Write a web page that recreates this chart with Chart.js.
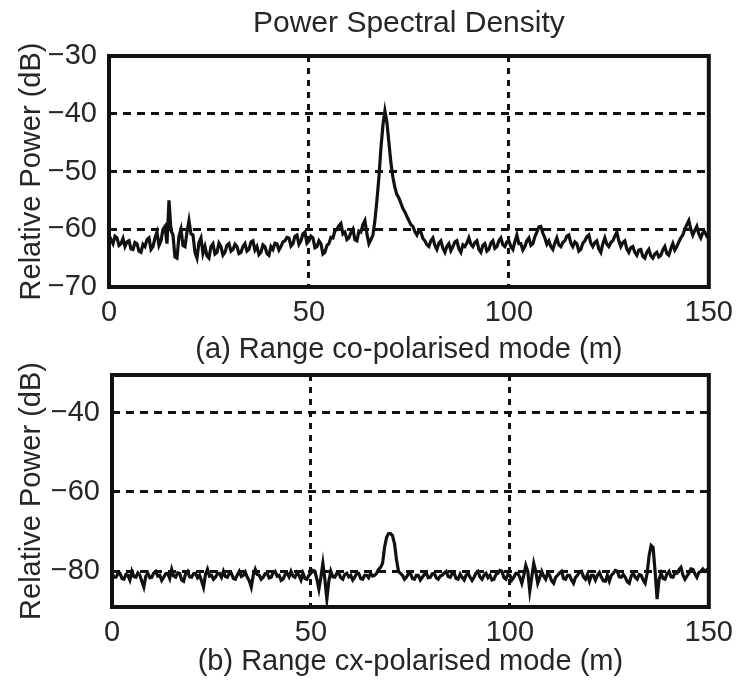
<!DOCTYPE html>
<html>
<head>
<meta charset="utf-8">
<script src="https://cdn.jsdelivr.net/npm/chart.js@4/dist/chart.umd.min.js"></script>
<style>
  html, body { margin: 0; padding: 0; background: #ffffff; }
  #wrap { position: relative; width: 742px; height: 686px; overflow: hidden; background: #ffffff; }
  canvas { position: absolute; left: 0; }
  #c1 { top: 0; }
  #c2 { top: 340px; }
</style>
</head>
<body>
<div id="wrap">
  <canvas id="c1" width="742" height="372"></canvas>
  <canvas id="c2" width="742" height="346"></canvas>
</div>
<script>
// ---- data (0.5 m spacing, 0..150 m) ----
const mainTitle = "Power Spectral Density";
const yLabel = "Relative Power (dB)";
const xLabelCo = "(a) Range co-polarised mode (m)";
const xLabelCx = "(b) Range cx-polarised mode (m)";

const rangeStepM = 0.5;
const xTicks = [0, 50, 100, 150];
const yTicksCo = [-70, -60, -50, -40, -30];
const yTicksCx = [-80, -60, -40];

const coPolar = [
  -61, -61.8, -62.5, -61.2, -61.5, -62.8, -62.5, -61.6, -63, -62.2,
  -62, -63.4, -63.5, -62.3, -62.5, -63.8, -64, -62.6, -63, -61.8,
  -61.5, -63.5, -63, -61.5, -60.5, -62.8, -62, -60, -59.5, -62.5,
  -55, -60.2, -61, -64.8, -65, -61.2, -60, -62.8, -63, -60.5,
  -58.5, -60.8, -61, -64, -65, -62.3, -61.5, -64.2, -63, -64.6,
  -65, -63, -62.5, -64.3, -64, -62.4, -63, -64.5, -64, -62.8,
  -62.5, -63.8, -63.5, -62.6, -63, -64.2, -64, -63, -62.5, -63.8,
  -63.5, -62.2, -62, -63.6, -63, -64.4, -64, -62.7, -63, -64.2,
  -64.5, -63, -63.5, -62.4, -62.5, -63.6, -63, -62.2, -62, -61.4,
  -61.5, -62.9, -62.5, -61.2, -61, -62.6, -62, -60.8, -60.5, -62.4,
  -62, -61.2, -61.5, -63.2, -63, -62, -62.5, -64.3, -64, -62.8,
  -62.5, -61.4, -61.5, -60.3, -60, -59.4, -59, -60.8, -60.5, -61.8,
  -61.5, -60.6, -60, -61.8, -62, -60.3, -60.5, -59.2, -58.5, -60.8,
  -62.5, -61.8, -61, -58.5, -55, -51, -46, -42, -39.5, -41.5,
  -45, -48.5, -51, -52.8, -54, -54.6, -55.5, -56.4, -57, -57.8,
  -58.5, -59.2, -59.5, -60.4, -61, -60.2, -60.5, -61.6, -62, -62.7,
  -63, -62, -61.5, -62.8, -63.5, -62.4, -62, -63.3, -64, -63,
  -62.5, -63.7, -63, -62.2, -62, -63.4, -64, -62.7, -63, -62.4,
  -61.5, -62.6, -63, -62.3, -62, -63.5, -64, -62.8, -62.5, -63.8,
  -63.5, -62.4, -62, -63.3, -63, -62, -61.5, -62.7, -63, -62.2,
  -62, -63, -63.5, -62.2, -61, -62.5, -62.5, -63.6, -63, -62,
  -61.5, -62.8, -62.5, -61.3, -60.5, -59.6, -59.5, -60.7, -61.5, -62.6,
  -62, -63, -63.5, -62.4, -61.5, -62.7, -63, -62.3, -62, -61.2,
  -61, -62.4, -63, -62.2, -62.5, -63.8, -63.5, -62.4, -62, -61.3,
  -61, -62.4, -63, -62.3, -62, -63.4, -64, -62.5, -61.5, -62.6,
  -63, -62.3, -62, -61.2, -60.5, -62, -63, -62.3, -62, -63.4,
  -64, -63.2, -63, -64, -64.5, -63.6, -63.5, -64.7, -65, -64,
  -63.5, -64.6, -65, -64.3, -64, -64.8, -64.5, -63.6, -63, -64.2,
  -64.5, -63.4, -62.5, -63.6, -63, -62.2, -61.5, -61, -60, -59.2,
  -58.5, -60, -61, -60.2, -59.5, -60.8, -61.5, -60.6, -60.5, -61.2,
  -61
];

const cxPolar = [
  -80.5, -81.5, -81.5, -80.6, -80.5, -81.8, -82, -80.8, -81, -82.2,
  -80, -81.3, -81.5, -80.4, -81, -82.5, -84, -81.2, -80.5, -81.6,
  -81.5, -80.4, -80, -81.2, -81, -82.3, -81.5, -80.6, -80.5, -81.8,
  -79.5, -81.2, -81.5, -80.4, -80.5, -82.2, -82.5, -80.6, -80, -81.4,
  -81.5, -80.6, -80.5, -81.6, -81, -82.4, -84, -80.8, -79.5, -81.2,
  -81, -82, -81.5, -80.6, -80.5, -81.5, -80, -81.3, -81.5, -80.5,
  -80.5, -81.8, -82, -80.9, -80, -81.3, -81, -80.2, -81.5, -82.4,
  -84, -81, -79.5, -80.8, -81, -82, -81.5, -80.6, -80.5, -81.7,
  -81.5, -80.4, -80, -81.2, -81, -82.3, -82, -80.8, -80.5, -81.4,
  -80, -81.2, -81.5, -80.3, -81, -82.2, -80.5, -81.8, -82, -81,
  -80.5, -79.8, -80, -82, -84.5, -81.5, -78, -82, -87, -82.5,
  -80, -81.4, -81.5, -80.5, -80.5, -81.6, -82, -80.8, -80.5, -81.4,
  -81, -82.2, -81.5, -80.5, -80.5, -81.8, -82, -81, -81, -81.6,
  -80.5, -81.2, -81, -80.5, -79.5, -79, -78, -74, -71.5, -70.5,
  -70.5, -71, -73, -77, -80, -80.5, -81, -82, -81.5, -80.6,
  -80.5, -81.8, -82, -81, -81, -82.2, -81.5, -80.8, -80.5, -81.6,
  -81.5, -80.6, -80.5, -81.6, -82, -81.2, -81, -80.4, -80, -81.3,
  -81.5, -80.6, -80.5, -81.8, -82, -80.7, -81.5, -82.2, -81, -80.5,
  -81.5, -82.3, -81.5, -80.4, -80, -81.5, -82, -81, -80.5, -81.6,
  -81, -82.2, -82, -80.8, -80.5, -79.8, -80, -81.6, -82, -80.8,
  -81, -82.2, -81.5, -80.5, -80.5, -81.5, -83, -81, -78.5, -80,
  -85, -81.5, -78, -80, -83, -81.6, -80, -81.2, -82, -80.5,
  -81, -82.4, -83, -81.5, -81, -80.4, -80, -81.8, -82, -81,
  -81, -82.2, -83, -81.5, -81, -80.2, -80, -81.4, -82, -80.8,
  -82.5, -81, -81, -82.2, -81, -80.3, -81.5, -82.4, -82.5, -81,
  -82.5, -81, -80.5, -79.8, -80, -81.4, -81.5, -80.8, -81.5, -82.6,
  -83, -81.2, -80.5, -81.5, -82, -80.8, -81, -82.2, -83, -80.5,
  -76, -73.5, -74, -80, -87, -82, -80.5, -81.8, -82, -80.6,
  -80, -81.4, -81.5, -80.4, -80.5, -79.6, -79, -81, -82, -81.2,
  -80.5, -79.4, -79.5, -80.6, -81.5, -80.3, -80, -79.4, -80, -79.6,
  -79.5
];

// ---- styling ----
const FONT = "'Liberation Sans', Arial, Helvetica, sans-serif";
const INK = '#111111';
const TXT = '#262626';

const framePlugin = {
  id: 'frame',
  afterLayout(chart) {
    // centre the main title over the plot area, as in the reference
    if (chart.titleBlock && chart.titleBlock.options.display) {
      chart.titleBlock.left = chart.chartArea.left;
      chart.titleBlock.right = chart.chartArea.right;
    }
  },
  afterDatasetsDraw(chart) {
    const { ctx, chartArea: a } = chart;
    ctx.save();
    ctx.strokeStyle = INK;
    ctx.lineWidth = 4;
    ctx.setLineDash([]);
    ctx.strokeRect(a.left, a.top, a.right - a.left, a.bottom - a.top);
    ctx.restore();
  }
};

const minus = v => String(v).replace('-', '\u2212');

function makeChart(id, cfg) {
  const pts = cfg.values.map((v, i) => ({ x: i * rangeStepM, y: v }));
  return new Chart(document.getElementById(id), {
    type: 'line',
    data: {
      datasets: [{
        data: pts,
        borderColor: INK,
        borderWidth: 3.2,
        pointRadius: 0,
        tension: 0,
        fill: false
      }]
    },
    options: {
      responsive: false,
      animation: false,
      layout: { padding: cfg.padding },
      plugins: {
        legend: { display: false },
        tooltip: { enabled: false },
        title: cfg.title ? {
          display: true,
          text: cfg.title,
          color: TXT,
          font: { family: FONT, size: 30, weight: 'normal' },
          padding: { top: 6, bottom: 14 }
        } : { display: false }
      },
      scales: {
        x: {
          type: 'linear',
          min: xTicks[0],
          max: xTicks[xTicks.length - 1],
          afterBuildTicks: s => { s.ticks = xTicks.map(v => ({ value: v })); },
          afterFit: s => { s.height = cfg.xAxisHeight; },
          ticks: {
            color: TXT,
            font: { family: FONT, size: 29 },
            padding: 9,
            maxRotation: 0,
            callback: v => minus(v)
          },
          grid: {
            drawTicks: false,
            lineWidth: 3,
            color: c => (c.tick && c.tick.value !== xTicks[0] && c.tick.value !== xTicks[xTicks.length - 1]) ? INK : 'rgba(0,0,0,0)'
          },
          border: { display: false, dash: [6, 6] },
          title: {
            display: true,
            text: cfg.xLabel,
            color: TXT,
            font: { family: FONT, size: 29 },
            padding: { top: 0, bottom: cfg.xTitlePad }
          }
        },
        y: {
          min: cfg.yMin,
          max: cfg.yMax,
          afterBuildTicks: s => { s.ticks = cfg.yTicks.map(v => ({ value: v })); },
          afterFit: s => { s.width = cfg.yAxisWidth; },
          ticks: {
            color: TXT,
            font: { family: FONT, size: 29 },
            padding: 12,
            callback: v => minus(v)
          },
          grid: {
            drawTicks: false,
            lineWidth: 3,
            color: c => (c.tick && c.tick.value !== cfg.yMin && c.tick.value !== cfg.yMax) ? INK : 'rgba(0,0,0,0)'
          },
          border: { display: false, dash: [8, 6] },
          title: {
            display: true,
            text: yLabel,
            color: TXT,
            font: { family: FONT, size: 29 },
            padding: { top: 15, bottom: 0 }
          }
        }
      }
    },
    plugins: [framePlugin]
  });
}

makeChart('c1', {
  values: coPolar,
  title: mainTitle,
  xLabel: xLabelCo,
  yMin: -70, yMax: -30,
  yTicks: yTicksCo,
  padding: { top: 0, left: 0, right: 33, bottom: 0 },
  xAxisHeight: 85,
  xTitlePad: 5,
  yAxisWidth: 109
});

makeChart('c2', {
  values: cxPolar,
  title: null,
  xLabel: xLabelCx,
  yMin: -89, yMax: -30.5,
  yTicks: yTicksCx,
  padding: { top: 35, left: 0, right: 29, bottom: 0 },
  xAxisHeight: 79,
  xTitlePad: 7,
  yAxisWidth: 112
});
</script>
</body>
</html>
